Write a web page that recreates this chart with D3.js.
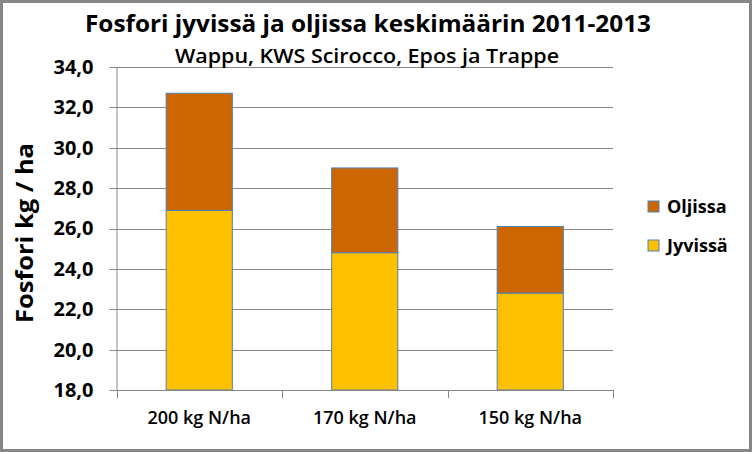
<!DOCTYPE html>
<html>
<head>
<meta charset="utf-8">
<script src="https://cdn.jsdelivr.net/npm/d3@7"></script>
<style>
  body { margin: 0; background: #fff; }
  text { font-family: "Open Sans", Lato, sans-serif; fill: #000; }
</style>
</head>
<body>
<div id="chart"></div>
<script>
// data
var categories = ["200 kg N/ha", "170 kg N/ha", "150 kg N/ha"];
var jyvissa = [26.9, 24.8, 22.8];
var oljissa = [5.8, 4.2, 3.3];
var seriesNames = ["Jyvissä", "Oljissa"];
var yTicks = [18, 20, 22, 24, 26, 28, 30, 32, 34];

var W = 752, H = 452;
var colors = { "Jyvissä": "#FFC000", "Oljissa": "#CC6600" };

var svg = d3.select("#chart").append("svg")
	.attr("width", W)
	.attr("height", H);

// chart frame
svg.append("rect")
	.attr("x", 1.5).attr("y", 1.5)
	.attr("width", W - 3).attr("height", H - 3)
	.attr("fill", "#fff")
	.attr("stroke", "#868686")
	.attr("stroke-width", 3);

var plot = { left: 116.5, right: 613, top: 67, bottom: 390 };

var x = d3.scaleBand()
	.domain(categories)
	.range([plot.left, plot.right])
	.paddingInner(0.6)
	.paddingOuter(0.3);

var y = d3.scaleLinear()
	.domain([18, 34])
	.range([plot.bottom, plot.top]);

// gridlines
svg.append("g")
	.selectAll("line")
	.data(yTicks)
	.join("line")
	.attr("x1", plot.left - 7)
	.attr("x2", plot.right)
	.attr("y1", function(d) { return Math.round(y(d)) + 0.5; })
	.attr("y2", function(d) { return Math.round(y(d)) + 0.5; })
	.attr("stroke", "#868686")
	.attr("stroke-width", 1);

// stacked bars
var rows = categories.map(function(c, i) {
	return { cat: c, "Jyvissä": jyvissa[i], "Oljissa": oljissa[i] };
});
var stacked = d3.stack().keys(seriesNames)(rows);

svg.append("g")
	.selectAll("g")
	.data(stacked)
	.join("g")
	.attr("fill", function(d) { return colors[d.key]; })
	.selectAll("rect")
	.data(function(d) { return d; })
	.join("rect")
	.attr("x", function(d) { return x(d.data.cat); })
	.attr("width", x.bandwidth())
	.attr("y", function(d) { return y(d[1]); })
	.attr("height", function(d) { return y(Math.max(d[0], 18)) - y(d[1]); })
	.attr("stroke", "#4F81BD")
	.attr("stroke-width", 1);

// y axis
var yAxis = svg.append("g")
	.attr("transform", "translate(" + plot.left + ",0)")
	.call(d3.axisLeft(y)
		.tickValues(yTicks)
		.tickSize(0)
		.tickPadding(23)
		.tickFormat(function(d) { return d.toFixed(1).replace(".", ","); }));
yAxis.select(".domain").attr("stroke", "#868686");
yAxis.selectAll("text")
	.style("font-family", "'Open Sans', sans-serif")
	.style("font-size", "20px")
	.style("font-weight", "bold")
	.attr("fill", "#000");

// x axis
var xAxis = svg.append("g")
	.attr("transform", "translate(0," + (plot.bottom + 0.5) + ")")
	.call(d3.axisBottom(x).tickSize(0).tickPadding(21));
xAxis.select(".domain").attr("stroke", "#868686").attr("d", "M" + plot.left + ",0H" + plot.right);
xAxis.selectAll("text")
	.style("font-family", "'Open Sans', sans-serif")
	.style("font-size", "18px")
	.style("font-weight", "600")
	.attr("fill", "#000");

// category separators on x axis
var seps = d3.range(categories.length + 1).map(function(i) { return plot.left + (plot.right - plot.left) * i / categories.length; });
svg.append("g")
	.selectAll("line")
	.data(seps)
	.join("line")
	.attr("x1", function(d) { return Math.round(d) + 0.5; })
	.attr("x2", function(d) { return Math.round(d) + 0.5; })
	.attr("y1", plot.bottom)
	.attr("y2", plot.bottom + 8)
	.attr("stroke", "#868686");

// titles
svg.append("text")
	.attr("x", 85).attr("y", 32)
	.attr("textLength", 566)
	.attr("lengthAdjust", "spacingAndGlyphs")
	.style("font-size", "23px")
	.style("font-weight", "bold")
	.text("Fosfori jyvissä ja oljissa keskimäärin 2011-2013");

svg.append("text")
	.attr("x", 175).attr("y", 63)
	.attr("textLength", 384)
	.attr("lengthAdjust", "spacingAndGlyphs")
	.style("font-size", "19px")
	.style("font-weight", "600")
	.text("Wappu, KWS Scirocco, Epos ja Trappe");

svg.append("text")
	.attr("transform", "translate(33,323) rotate(-90)")
	.attr("textLength", 180)
	.attr("lengthAdjust", "spacingAndGlyphs")
	.style("font-size", "24px")
	.style("font-weight", "bold")
	.text("Fosfori kg / ha");

// legend
var legendItems = ["Oljissa", "Jyvissä"];
var legend = svg.append("g")
	.selectAll("g")
	.data(legendItems)
	.join("g")
	.attr("transform", function(d, i) { return "translate(648," + (201 + i * 39) + ")"; });
legend.append("rect")
	.attr("width", 11).attr("height", 11)
	.attr("fill", function(d) { return colors[d]; })
	.attr("stroke", "#4F81BD");
legend.append("text")
	.attr("x", 19).attr("y", 12)
	.style("font-size", "18px")
	.style("font-weight", "bold")
	.text(function(d) { return d; });
</script>
</body>
</html>
